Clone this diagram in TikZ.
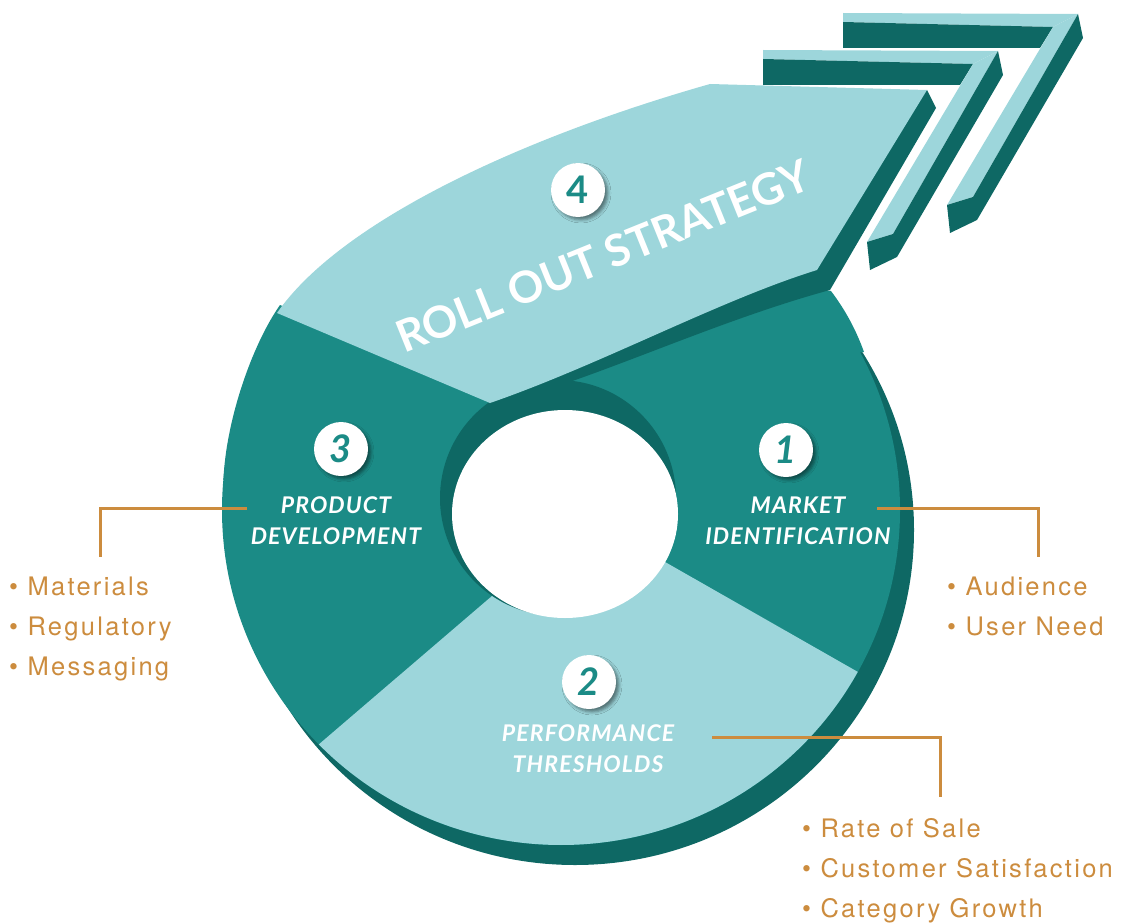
\documentclass[tikz,border=0pt]{standalone}
\usepackage{fontspec}
\usetikzlibrary{shadows.blur}
\newfontfamily\optfont{Lato}
\newfontfamily\listfont[LetterSpace=9]{TeX Gyre Heros}
\definecolor{tealL}{RGB}{157,214,219}
\definecolor{tealM}{RGB}{27,139,134}
\definecolor{tealD}{RGB}{14,104,100}
\definecolor{ochre}{RGB}{204,140,62}
\tikzstyle{num}=[circle, fill=white, minimum size=54pt, inner sep=0pt, text=tealM,
  font=\optfont\bfseries\itshape\fontsize{38pt}{38pt}\selectfont,
  blur shadow={shadow xshift=3pt, shadow yshift=-3pt, shadow blur radius=3pt, shadow opacity=45}]
\tikzstyle{tag}=[align=center, inner sep=0pt, text=white,
  font=\optfont\bfseries\itshape\fontsize{23pt}{31pt}\selectfont\addfontfeature{LetterSpace=5}]
\tikzstyle{item}=[anchor=base west, inner sep=0pt, text=ochre, font=\listfont\fontsize{25.5pt}{25.5pt}\selectfont]
\tikzstyle{lead}=[draw=ochre, line width=3pt]

\begin{document}
\begin{tikzpicture}[x=1pt, y=-1pt]
  \useasboundingbox (0,0) rectangle (1124,923);
  % chevrons behind the arrow
  \foreach \dx/\dy in {0/0, -80/37} {
    \begin{scope}[shift={(\dx,\dy)}]
      \fill[tealL] (843,13) -- (1078,14) -- (1053,27) -- (843,22) -- cycle;
      \fill[tealD] (843,22) -- (1053,27) -- (1040,48) -- (843,48) -- cycle;
      \fill[tealL] (1053,27) -- (1078,14) -- (973,197) -- (947,205) -- cycle;
      \fill[tealD] (1078,14) -- (1083,38) -- (977,220) -- (950,233) -- (947,205) -- (973,197) -- cycle;
    \end{scope}
  }
  % ring
  \fill[tealD] (575,530) ellipse [x radius=339, y radius=335];
  \fill[tealM] (561,510) ellipse [x radius=339, y radius=335];
  \fill[tealM] (280,305) .. controls (252,345) and (226,420) .. (223.4,480) -- (340,480) -- (340,330) -- cycle;
  \fill[tealM] (790,285) -- (831,291) .. controls (846,311) and (856,330) .. (864,352) -- (790,360) -- cycle;
  \fill[tealL] (520,572) -- ([shift={(561,510)}]135.6:339 and 335)
    arc [start angle=135.6, end angle=28.9, x radius=339, y radius=335] -- (630,542) -- cycle;
  \fill[tealD] (558,498) circle [radius=118];
  \fill[white] (565,514) ellipse [x radius=113, y radius=104];
  % arrow
  \fill[tealD] (927,90) -- (936,108) -- (830,290) .. controls (720,320) and (610,372) .. (520,398)
    -- (600,300) -- (900,100) -- cycle;
  \fill[tealL] (277,313) .. controls (340,222) and (520,138) .. (710,84) -- (927,90) -- (817,270)
    .. controls (720,300) and (600,365) .. (490,403) -- cycle;

  \node[num] (n4) at (578,190) {\upshape 4};
  \node[num] (n3) at (341,449) {3};
  \node[num] (n1) at (786,450) {1};
  \node[num] (n2) at (589,682) {2};

  \node[tag, font=\optfont\bfseries\fontsize{44pt}{44pt}\selectfont, rotate=22, anchor=base] (ros) at (609,271) {ROLL OUT STRATEGY};
  \node[tag] (pd) at (336,520.5) {PRODUCT\\DEVELOPMENT};
  \node[tag] (mi) at (798,520.5) {MARKET\\IDENTIFICATION};
  \node[tag] (pt) at (588,749) {PERFORMANCE\\THRESHOLDS};

  \foreach \t [count=\i] in {Materials, Regulatory, Messaging}
    \node[item] (pd\i) at (9,555+40*\i) {• \t};
  \foreach \t [count=\i] in {Audience, User Need}
    \node[item] (mi\i) at (947,555+40*\i) {• \t};
  \foreach \t [count=\i] in {Rate of Sale, Customer Satisfaction, Category Growth}
    \node[item] (pt\i) at (802,797+40*\i) {• \t};

  \coordinate (pd-a) at (247,508);
  \coordinate (pd-b) at (100,557);
  \coordinate (mi-a) at (877,508);
  \coordinate (mi-b) at (1038,557);
  \coordinate (pt-a) at (712,737);
  \coordinate (pt-b) at (940,797);
  \draw[lead] (pd-a) -| (pd-b);
  \draw[lead] (mi-a) -| (mi-b);
  \draw[lead] (pt-a) -| (pt-b);
\end{tikzpicture}
\end{document}
